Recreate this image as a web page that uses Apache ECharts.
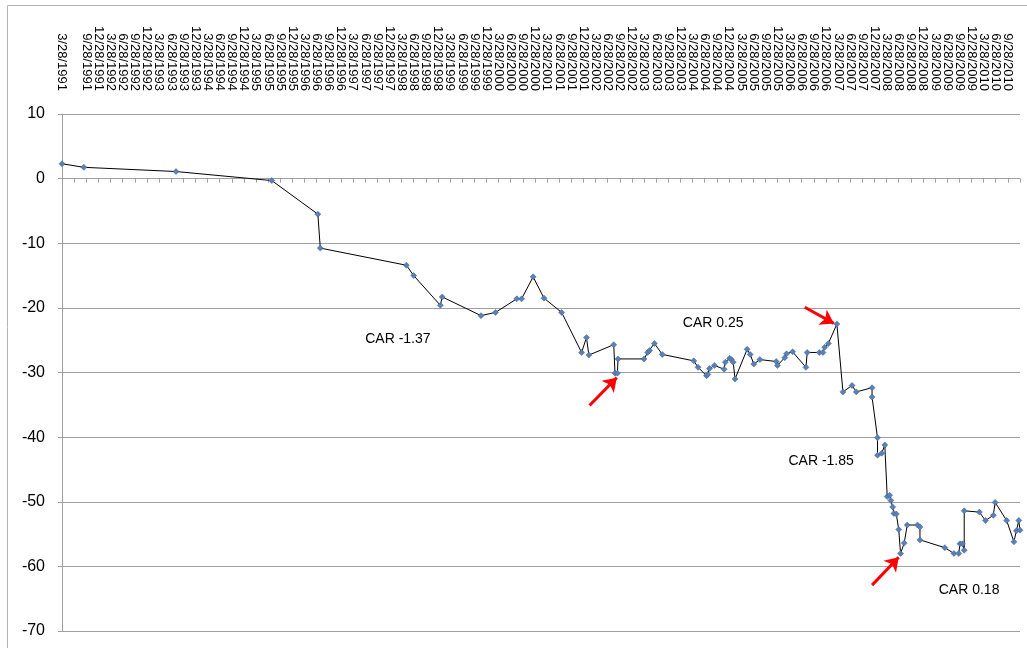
<!DOCTYPE html>
<html>
<head>
<meta charset="utf-8">
<script src="https://cdn.jsdelivr.net/npm/echarts@6/dist/echarts.min.js"></script>
<style>
  html, body { margin: 0; padding: 0; background: #fff; }
  #chart { width: 1027px; height: 648px; }
</style>
</head>
<body>
<div id="chart"></div>
<script>
// quarter labels along the top (index = quarters since 3/28/1991)
var quarterLabels = [
  '3/28/1991','6/28/1991','9/28/1991','12/28/1991',
  '3/28/1992','6/28/1992','9/28/1992','12/28/1992',
  '3/28/1993','6/28/1993','9/28/1993','12/28/1993',
  '3/28/1994','6/28/1994','9/28/1994','12/28/1994',
  '3/28/1995','6/28/1995','9/28/1995','12/28/1995',
  '3/28/1996','6/28/1996','9/28/1996','12/28/1996',
  '3/28/1997','6/28/1997','9/28/1997','12/28/1997',
  '3/28/1998','6/28/1998','9/28/1998','12/28/1998',
  '3/28/1999','6/28/1999','9/28/1999','12/28/1999',
  '3/28/2000','6/28/2000','9/28/2000','12/28/2000',
  '3/28/2001','6/28/2001','9/28/2001','12/28/2001',
  '3/28/2002','6/28/2002','9/28/2002','12/28/2002',
  '3/28/2003','6/28/2003','9/28/2003','12/28/2003',
  '3/28/2004','6/28/2004','9/28/2004','12/28/2004',
  '3/28/2005','6/28/2005','9/28/2005','12/28/2005',
  '3/28/2006','6/28/2006','9/28/2006','12/28/2006',
  '3/28/2007','6/28/2007','9/28/2007','12/28/2007',
  '3/28/2008','6/28/2008','9/28/2008','12/28/2008',
  '3/28/2009','6/28/2009','9/28/2009','12/28/2009',
  '3/28/2010','6/28/2010','9/28/2010'
];

// event positions (in quarters) and cumulative values
var xQuarter = [
  0, 1.8, 9.4, 17.3, 21.1, 21.3, 28.4, 29.0, 31.2, 31.35,
  34.55, 35.75, 37.5, 37.9, 38.85, 39.75, 41.2, 42.85, 43.25, 43.45,
  45.5, 45.6, 45.8, 45.85, 48.0, 48.3, 48.45, 48.85, 49.5, 52.1,
  52.45, 53.15, 53.25, 53.4, 53.8, 54.6, 54.7, 55.05, 55.2, 55.35,
  55.5, 56.5, 56.75, 57.05, 57.55, 58.9, 59.0, 59.6, 59.75, 60.25,
  61.35, 61.45, 62.45, 62.75, 62.9, 63.2, 63.9, 64.4, 65.15, 65.5,
  66.8, 66.8, 67.25, 67.25, 67.6, 67.85, 68.05, 68.25, 68.35, 68.5,
  68.6, 68.8, 69.0, 69.15, 69.45, 69.7, 70.55, 70.75, 70.75, 72.8,
  73.55, 73.95, 74.05, 74.25, 74.4, 74.4, 75.65, 76.15, 76.8, 76.95,
  77.9, 78.5, 78.7, 78.9, 79.0
];
var carValues = [
  2.3, 1.75, 1.1, -0.3, -5.5, -10.75, -13.4, -15.0, -19.6, -18.3,
  -21.2, -20.7, -18.6, -18.6, -15.2, -18.5, -20.7, -26.9, -24.6, -27.3,
  -25.7, -30.1, -30.1, -27.9, -27.9, -26.9, -26.6, -25.5, -27.2, -28.2,
  -29.2, -30.5, -30.3, -29.4, -28.9, -29.5, -28.4, -27.8, -28.0, -28.4,
  -31.0, -26.4, -27.2, -28.7, -28.0, -28.3, -28.9, -27.7, -27.1, -26.8,
  -29.2, -26.9, -26.9, -26.9, -26.1, -25.5, -22.5, -33.0, -32.0, -33.0,
  -32.35, -33.8, -40.1, -42.8, -42.5, -41.2, -49.2, -49.0, -49.8, -50.8,
  -51.8, -51.9, -54.3, -58.0, -56.4, -53.6, -53.6, -53.9, -55.9, -57.1,
  -58.0, -58.0, -56.5, -56.5, -57.5, -51.4, -51.6, -52.9, -52.1, -50.1,
  -52.9, -56.2, -54.5, -52.9, -54.4
];

// annotations
var carTexts = ['CAR -1.37', 'CAR 0.25', 'CAR -1.85', 'CAR 0.18'];
var carTextPos = [[27.7, -24.9], [53.7, -22.4], [62.6, -43.7], [74.8, -63.7]];
var arrows = [
  [[43.5, -35.1], [45.75, -30.8]],
  [[61.25, -19.9], [63.65, -22.4]],
  [[66.8, -62.9], [69.0, -58.6]]
];

var seriesData = xQuarter.map(function (x, i) { return [x, carValues[i]]; });

var gridColor = '#a0a0a0';
var fontFamily = '"Liberation Sans", Arial, sans-serif';

var chart = echarts.init(document.getElementById('chart'));
chart.setOption({
  animation: false,
  backgroundColor: '#fff',
  graphic: [{
    type: 'rect',
    shape: { x: 7.5, y: 5.5, width: 1100, height: 700 },
    style: { fill: 'none', stroke: '#b4b4b4', lineWidth: 1 },
    silent: true
  }],
  grid: { left: 62, right: 7, top: 114, bottom: 17 },
  xAxis: [{
    type: 'value',
    min: 0, max: 79, interval: 1,
    axisLine: { onZero: true, lineStyle: { color: gridColor } },
    axisTick: { show: true, length: 4, lineStyle: { color: gridColor } },
    axisLabel: { show: false },
    splitLine: { show: false }
  }, {
    type: 'value',
    position: 'top',
    min: 0, max: 79, interval: 1,
    axisLine: { show: false },
    axisTick: { show: false },
    splitLine: { show: false },
    axisLabel: {
      rotate: 90,
      margin: 23,
      fontSize: 13,
      fontFamily: fontFamily,
      color: '#000',
      showMinLabel: true,
      showMaxLabel: false,
      formatter: function (v) { return quarterLabels[Math.round(v)] || ''; }
    }
  }],
  yAxis: {
    type: 'value',
    min: -70, max: 10, interval: 10,
    axisLine: { show: true, lineStyle: { color: gridColor } },
    axisTick: { show: true, length: 4, lineStyle: { color: gridColor } },
    axisLabel: { fontSize: 16, fontFamily: fontFamily, color: '#000', margin: 17 },
    splitLine: { lineStyle: { color: gridColor } }
  },
  series: [{
    type: 'line',
    data: seriesData,
    symbol: 'diamond',
    symbolSize: 6,
    showAllSymbol: true,
    lineStyle: { color: '#000', width: 1 },
    itemStyle: { color: '#5a80b8', borderColor: '#3d5f8f', borderWidth: 0.5 },
    markLine: {
      silent: true,
      symbol: ['none', 'arrow'],
      symbolSize: [13, 13],
      lineStyle: { color: '#ff0000', width: 3, type: 'solid' },
      label: { show: false },
      data: arrows.map(function (a) { return [{ coord: a[0] }, { coord: a[1] }]; })
    },
    markPoint: {
      silent: true,
      symbol: 'circle',
      symbolSize: 1,
      itemStyle: { color: 'rgba(0,0,0,0)' },
      label: {
        show: true, position: 'inside', formatter: '{b}',
        fontSize: 14, fontFamily: fontFamily, color: '#000'
      },
      data: carTexts.map(function (t, i) { return { name: t, coord: carTextPos[i] }; })
    }
  }]
});
</script>
</body>
</html>
